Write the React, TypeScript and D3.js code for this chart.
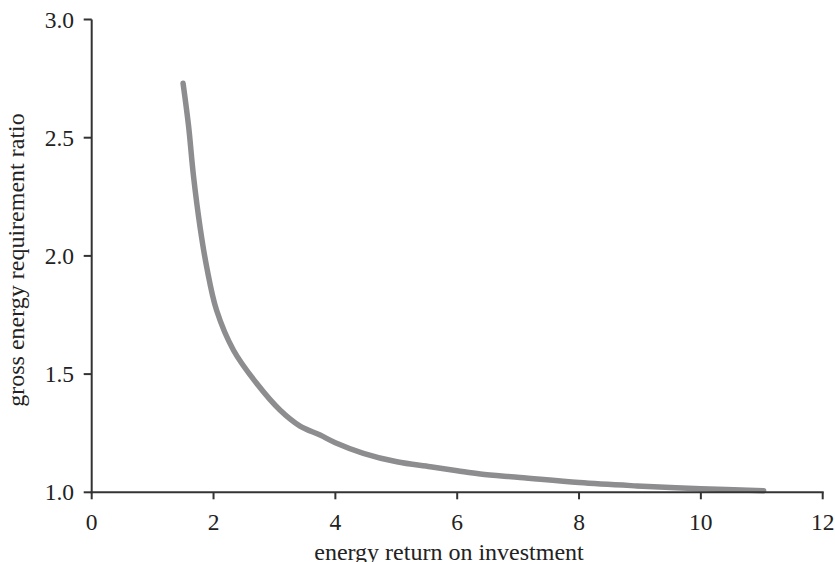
import React from "react";
import * as d3 from "d3";

const eroi = [1.5, 1.59, 1.67, 1.78, 1.89, 2.05, 2.33, 2.71, 3.09, 3.42, 3.75, 4.0, 4.46, 5.01, 5.56, 6.0, 6.38, 7.03, 8.0, 8.95, 10.0, 11.03];
const ger = [2.73, 2.55, 2.34, 2.12, 1.95, 1.77, 1.6, 1.46, 1.348, 1.28, 1.242, 1.21, 1.165, 1.129, 1.108, 1.091, 1.077, 1.063, 1.041, 1.027, 1.015, 1.007];
const xTicks = [0, 2, 4, 6, 8, 10, 12];
const yTicks = [1.0, 1.5, 2.0, 2.5, 3.0];
const xTitle = "energy return on investment";
const yTitle = "gross energy requirement ratio";

const W = 835;
const H = 562;
const FONT = "'Liberation Serif', 'Times New Roman', Times, serif";

export default function App() {
  const x = d3.scaleLinear().domain([0, 12]).range([91.7, 822.7]);
  const y = d3.scaleLinear().domain([1, 3]).range([492.3, 19.5]);
  const pts = eroi.map((e, i) => [e, ger[i]] as [number, number]);
  const line = d3
    .line<[number, number]>()
    .x((d) => x(d[0]))
    .y((d) => y(d[1]))
    .curve(d3.curveCatmullRom.alpha(0.5));
  const axisColor = "#333";
  const tickStyle = { fontFamily: FONT, fontSize: "23.5px" };
  const titleStyle = { fontFamily: FONT, fontSize: "24px" };
  return (
    <svg
      width={W}
      height={H}
      style={{ position: "absolute", left: 0, top: 0, background: "#fff" }}
    >
      <path d={line(pts) || ""} fill="none" stroke="#8d8d90" strokeWidth={5.5} strokeLinecap="round" />
      {/* y axis */}
      <line x1={x(0)} x2={x(0)} y1={y(3)} y2={y(1) + 1} stroke={axisColor} strokeWidth={2} />
      {yTicks.map((t) => (
        <g key={"y" + t}>
          <line x1={x(0) - 8} x2={x(0)} y1={y(t)} y2={y(t)} stroke={axisColor} strokeWidth={2} />
          <text x={74} y={y(t) + 8} textAnchor="end" style={tickStyle} fill="#222">
            {t.toFixed(1)}
          </text>
        </g>
      ))}
      {/* x axis */}
      <line x1={x(0) - 1} x2={x(12) + 1} y1={y(1)} y2={y(1)} stroke={axisColor} strokeWidth={2} />
      {xTicks.map((t) => (
        <g key={"x" + t}>
          <line x1={x(t)} x2={x(t)} y1={y(1)} y2={y(1) + 7} stroke={axisColor} strokeWidth={2} />
          <text x={x(t)} y={y(1) + 38} textAnchor="middle" style={tickStyle} fill="#222">
            {t}
          </text>
        </g>
      ))}
      <text x={449} y={560} textAnchor="middle" style={titleStyle} fill="#222">
        {xTitle}
      </text>
      <text
        transform={`translate(24, ${260}) rotate(-90)`}
        textAnchor="middle"
        style={titleStyle}
        fill="#222"
      >
        {yTitle}
      </text>
    </svg>
  );
}
